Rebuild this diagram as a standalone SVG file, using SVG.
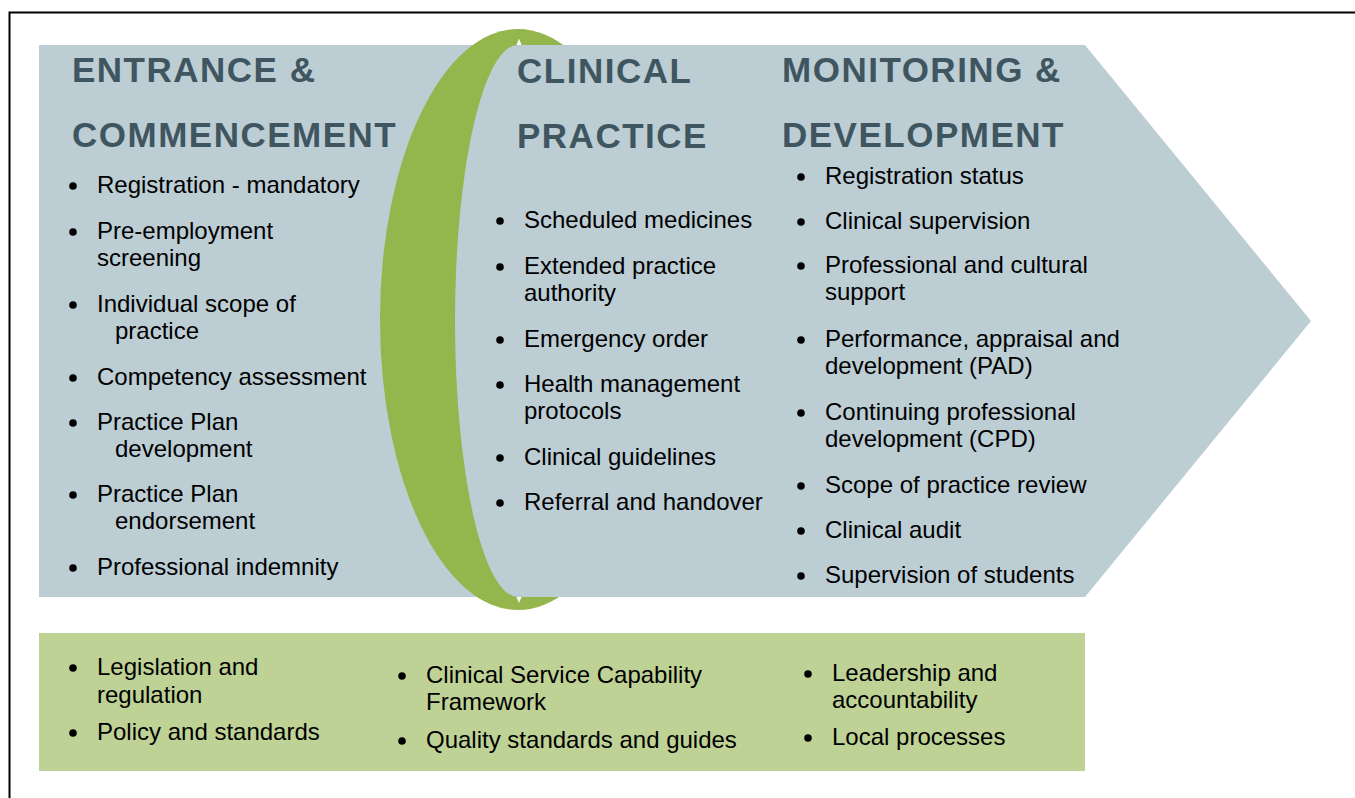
<svg xmlns="http://www.w3.org/2000/svg" width="1355" height="798" viewBox="0 0 1355 798">
  <style>
    .head { font-family: "Liberation Sans", Arial, sans-serif; font-weight: bold; font-size: 35px; fill: #3f5560; letter-spacing: 1.5px; }
    .item { font-family: "Liberation Sans", Arial, sans-serif; font-size: 24px; fill: #000000; }
    .dot { fill: #000000; }
  </style>
  <defs>
    <circle id="bullet" r="3.8" class="dot"/>
  </defs>

  <!-- page frame -->
  <rect x="0" y="0" width="1355" height="798" fill="#ffffff"/>
  <rect x="9.5" y="12.5" width="1400" height="820" fill="none" stroke="#000000" stroke-width="2"/>

  <!-- main pathway arrow -->
  <polygon id="pathway" points="39,45 1085,45 1311,321 1085,597 39,597" fill="#bccdd4"/>

  <!-- green lens separating the first two phases -->
  <g id="lens">
    <ellipse cx="518" cy="319.5" rx="138" ry="290.5" fill="#94b64c"/>
    <path d="M518,45 A63,276 0 0 0 518,597 L700,597 L700,45 Z" fill="#bccdd4"/>
    <polygon points="516.5,45 519,38.5 521.5,45" fill="#ffffff"/>
    <polygon points="516.5,597 519,603 521.5,597" fill="#ffffff"/>
  </g>

  <!-- phase 1 -->
  <g id="entrance">
    <text class="head" x="72" y="82">ENTRANCE &amp;</text>
    <text class="head" x="72" y="147">COMMENCEMENT</text>
    <use href="#bullet" x="73" y="186"/>
    <text class="item" x="97" y="193">Registration - mandatory</text>
    <use href="#bullet" x="73" y="232"/>
    <text class="item" x="97" y="239">Pre-employment</text>
    <text class="item" x="97" y="266">screening</text>
    <use href="#bullet" x="73" y="305"/>
    <text class="item" x="97" y="312">Individual scope of</text>
    <text class="item" x="115" y="339">practice</text>
    <use href="#bullet" x="73" y="378"/>
    <text class="item" x="97" y="385">Competency assessment</text>
    <use href="#bullet" x="73" y="423"/>
    <text class="item" x="97" y="430">Practice Plan</text>
    <text class="item" x="115" y="457">development</text>
    <use href="#bullet" x="73" y="495"/>
    <text class="item" x="97" y="502">Practice Plan</text>
    <text class="item" x="115" y="529">endorsement</text>
    <use href="#bullet" x="73" y="568"/>
    <text class="item" x="97" y="575">Professional indemnity</text>
  </g>

  <!-- phase 2 -->
  <g id="clinical">
    <text class="head" x="517" y="83">CLINICAL</text>
    <text class="head" x="517" y="148">PRACTICE</text>
    <use href="#bullet" x="500" y="221"/>
    <text class="item" x="524" y="228">Scheduled medicines</text>
    <use href="#bullet" x="500" y="267"/>
    <text class="item" x="524" y="274">Extended practice</text>
    <text class="item" x="524" y="301">authority</text>
    <use href="#bullet" x="500" y="340"/>
    <text class="item" x="524" y="347">Emergency order</text>
    <use href="#bullet" x="500" y="385"/>
    <text class="item" x="524" y="392">Health management</text>
    <text class="item" x="524" y="419">protocols</text>
    <use href="#bullet" x="500" y="458"/>
    <text class="item" x="524" y="465">Clinical guidelines</text>
    <use href="#bullet" x="500" y="503"/>
    <text class="item" x="524" y="510">Referral and handover</text>
  </g>

  <!-- phase 3 -->
  <g id="monitoring">
    <text class="head" x="782" y="82">MONITORING &amp;</text>
    <text class="head" x="782" y="147">DEVELOPMENT</text>
    <use href="#bullet" x="801" y="177"/>
    <text class="item" x="825" y="184">Registration status</text>
    <use href="#bullet" x="801" y="222"/>
    <text class="item" x="825" y="229">Clinical supervision</text>
    <use href="#bullet" x="801" y="266"/>
    <text class="item" x="825" y="273">Professional and cultural</text>
    <text class="item" x="825" y="300">support</text>
    <use href="#bullet" x="801" y="340"/>
    <text class="item" x="825" y="347">Performance, appraisal and</text>
    <text class="item" x="825" y="374">development (PAD)</text>
    <use href="#bullet" x="801" y="413"/>
    <text class="item" x="825" y="420">Continuing professional</text>
    <text class="item" x="825" y="447">development (CPD)</text>
    <use href="#bullet" x="801" y="486"/>
    <text class="item" x="825" y="493">Scope of practice review</text>
    <use href="#bullet" x="801" y="531"/>
    <text class="item" x="825" y="538">Clinical audit</text>
    <use href="#bullet" x="801" y="576"/>
    <text class="item" x="825" y="583">Supervision of students</text>
  </g>

  <!-- governance foundation -->
  <g id="foundation">
    <rect x="39" y="633" width="1046" height="138" fill="#bfd296"/>
    <use href="#bullet" x="73" y="668"/>
    <text class="item" x="97" y="675">Legislation and</text>
    <text class="item" x="97" y="703">regulation</text>
    <use href="#bullet" x="73" y="733"/>
    <text class="item" x="97" y="740">Policy and standards</text>
    <use href="#bullet" x="402" y="676"/>
    <text class="item" x="426" y="683">Clinical Service Capability</text>
    <text class="item" x="426" y="710">Framework</text>
    <use href="#bullet" x="402" y="741"/>
    <text class="item" x="426" y="748">Quality standards and guides</text>
    <use href="#bullet" x="808" y="674"/>
    <text class="item" x="832" y="681">Leadership and</text>
    <text class="item" x="832" y="708">accountability</text>
    <use href="#bullet" x="808" y="738"/>
    <text class="item" x="832" y="745">Local processes</text>
  </g>
</svg>
